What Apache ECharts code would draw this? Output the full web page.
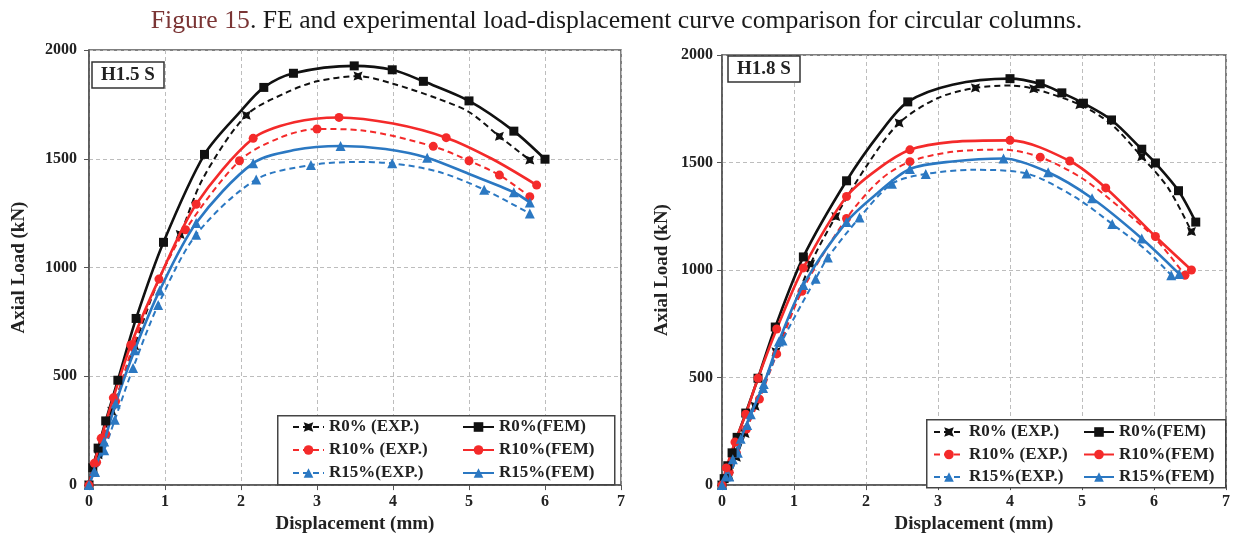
<!DOCTYPE html>
<html>
<head>
<meta charset="utf-8">
<script src="https://cdn.jsdelivr.net/npm/echarts@6/dist/echarts.min.js"></script>
<style>
html,body{margin:0;padding:0;background:#fff;}
#chart{width:1233px;height:539px;}
</style>
</head>
<body>
<div id="chart"></div>
<script>
// ---- data: [displacement (mm), axial load (kN), marker(1)/no marker(0)] ----
var xTicks = [0, 1, 2, 3, 4, 5, 6, 7];
var yTicks = [0, 500, 1000, 1500, 2000];
var seriesNames = ['R0% (EXP.)', 'R0%(FEM)', 'R10% (EXP.)', 'R10%(FEM)', 'R15%(EXP.)', 'R15%(FEM)'];
var panelLabels = ['H1.5 S', 'H1.8 S'];

// Panel H1.5 S
var h15_R0_EXP = [[0,0,1],[0.12,140,1],[0.3,340,1],[0.6,640,1],[0.9,930,0],[1.2,1152,1],[1.5,1410,0],[2.07,1700,1],[2.6,1805,0],[3.0,1856,0],[3.54,1880,1],[4.0,1845,0],[4.6,1775,0],[5.0,1715,0],[5.4,1603,1],[5.8,1494,1]];
var h15_R0_FEM = [[0,0,1],[0.05,80,1],[0.12,170,1],[0.22,295,1],[0.38,482,1],[0.62,766,1],[0.98,1116,1],[1.52,1520,1],[2.0,1720,0],[2.3,1828,1],[2.69,1893,1],[3.49,1927,1],[3.99,1909,1],[4.4,1856,1],[5.0,1766,1],[5.59,1627,1],[6.0,1498,1]];
var h15_R10_EXP = [[0,0,1],[0.1,105,1],[0.22,235,1],[0.35,385,1],[0.58,640,1],[0.9,930,0],[1.27,1174,1],[1.98,1491,1],[2.5,1595,0],[3.0,1637,1],[3.6,1630,0],[4.53,1557,1],[5.0,1491,1],[5.4,1425,1],[5.8,1326,1]];
var h15_R10_FEM = [[0,0,1],[0.07,100,1],[0.16,215,1],[0.32,401,1],[0.55,644,1],[0.92,947,1],[1.41,1291,1],[2.16,1594,1],[2.7,1668,0],[3.29,1690,1],[4.0,1662,0],[4.7,1597,1],[5.3,1500,0],[5.89,1379,1]];
var h15_R15_EXP = [[0,0,1],[0.08,60,1],[0.2,160,1],[0.34,300,1],[0.58,538,1],[0.91,828,1],[1.41,1151,1],[2.2,1405,1],[2.92,1471,1],[3.5,1485,0],[3.99,1479,1],[4.6,1440,0],[5.2,1358,1],[5.8,1248,1]];
var h15_R15_FEM = [[0,0,1],[0.07,65,1],[0.2,200,1],[0.35,375,1],[0.6,620,1],[0.93,895,1],[1.41,1205,1],[2.16,1480,1],[2.7,1540,0],[3.31,1559,1],[3.9,1545,0],[4.45,1505,1],[5.0,1430,0],[5.59,1346,1],[5.8,1299,1]];

// Panel H1.8 S
var h18_R0_EXP = [[0,0,1],[0.1,40,1],[0.2,130,1],[0.32,240,1],[0.46,367,1],[0.75,620,1],[1.23,1028,1],[1.58,1249,1],[2.0,1480,0],[2.46,1684,1],[3.0,1800,0],[3.52,1847,1],[4.0,1858,0],[4.33,1843,1],[4.97,1769,1],[5.4,1680,0],[5.83,1527,1],[6.2,1380,0],[6.52,1179,1]];
var h18_R0_FEM = [[0,0,1],[0.03,30,1],[0.08,90,1],[0.14,150,1],[0.21,222,1],[0.33,335,1],[0.5,497,1],[0.74,735,1],[1.13,1061,1],[1.73,1415,1],[2.2,1640,0],[2.58,1782,1],[3.2,1862,0],[4.0,1890,1],[4.42,1866,1],[4.72,1824,1],[5.02,1776,1],[5.41,1698,1],[5.83,1562,1],[6.02,1498,1],[6.34,1369,1],[6.58,1223,1]];
var h18_R10_EXP = [[0,0,1],[0.1,60,1],[0.2,150,1],[0.34,261,1],[0.52,400,1],[0.76,610,1],[1.11,901,1],[1.73,1240,1],[2.2,1420,0],[2.61,1504,1],[3.2,1550,0],[3.9,1560,0],[4.42,1525,1],[5.0,1427,0],[5.5,1298,0],[6.0,1153,0],[6.43,976,1]];
var h18_R10_FEM = [[0,0,1],[0.06,80,1],[0.18,200,1],[0.33,330,1],[0.5,497,1],[0.76,726,1],[1.13,1010,1],[1.73,1342,1],[2.15,1466,0],[2.61,1559,1],[3.2,1596,0],[4.0,1603,1],[4.83,1507,1],[5.33,1382,1],[6.02,1156,1],[6.52,1000,1]];
var h18_R15_EXP = [[0,0,1],[0.1,40,1],[0.22,150,1],[0.35,280,1],[0.57,451,1],[0.84,672,1],[1.3,959,1],[1.47,1058,1],[1.91,1244,1],[2.36,1401,1],[2.83,1447,1],[3.5,1466,0],[4.23,1449,1],[4.9,1340,0],[5.42,1214,1],[5.9,1090,0],[6.24,976,1]];
var h18_R15_FEM = [[0,0,1],[0.05,40,1],[0.15,120,1],[0.26,216,1],[0.4,330,1],[0.58,470,1],[0.79,668,1],[1.13,931,1],[1.73,1224,1],[2.15,1355,0],[2.61,1470,1],[3.2,1505,0],[3.91,1519,1],[4.53,1455,1],[5.14,1334,1],[5.83,1147,1],[6.35,982,1]];

var FONT = 'Liberation Serif';
var BLACK = '#111111', RED = '#f42a2a', BLUE = '#2b78c2';
var EXP_MARK = 'path://M0,0 L5,1.8 L10,0 L8.2,5 L10,10 L5,8.2 L0,10 L1.8,5 Z';

var styles = [
  {color: BLACK, dashed: true,  symbol: EXP_MARK, size: 9},
  {color: BLACK, dashed: false, symbol: 'rect', size: 9},
  {color: RED,   dashed: true,  symbol: 'circle', size: 9},
  {color: RED,   dashed: false, symbol: 'circle', size: 9},
  {color: BLUE,  dashed: true,  symbol: 'triangle', size: 10},
  {color: BLUE,  dashed: false, symbol: 'triangle', size: 10}
];
var panelData = [
  [h15_R0_EXP, h15_R0_FEM, h15_R10_EXP, h15_R10_FEM, h15_R15_EXP, h15_R15_FEM],
  [h18_R0_EXP, h18_R0_FEM, h18_R10_EXP, h18_R10_FEM, h18_R15_EXP, h18_R15_FEM]
];

var series = [];
panelData.forEach(function (arrs, p) {
  arrs.forEach(function (arr, i) {
    var st = styles[i];
    series.push({
      name: seriesNames[i],
      type: 'line',
      xAxisIndex: p, yAxisIndex: p,
      smooth: 0.3,
      symbol: st.symbol,
      symbolSize: st.size,
      showAllSymbol: true,
      z: st.dashed ? 3 : 4,
      lineStyle: {color: st.color, width: st.dashed ? 2 : 2.6, type: st.dashed ? [6, 4] : 'solid'},
      itemStyle: {color: st.color},
      emphasis: {disabled: true},
      data: arr.map(function (d) {
        return d[2] ? {value: [d[0], d[1]]} : {value: [d[0], d[1]], symbol: 'none'};
      })
    });
  });
});

var grids = [
  {left: 89, top: 50, width: 532, height: 439},
  {left: 722, top: 55, width: 505, height: 437}
];

function xAxis(idx) {
  return {
    type: 'value', gridIndex: idx, min: xTicks[0], max: xTicks[xTicks.length - 1], interval: 1,
    name: 'Displacement (mm)', nameLocation: 'middle', nameGap: idx === 0 ? 28 : 25,
    nameTextStyle: {fontFamily: FONT, fontWeight: 'bold', fontSize: 19, color: '#222'},
    axisLine: {lineStyle: {color: '#555', width: 1.5}},
    axisTick: {show: true, length: 5, lineStyle: {color: '#555'}},
    axisLabel: {fontFamily: FONT, fontWeight: 'bold', fontSize: 16, color: '#222', margin: 9,
      formatter: function (v) { return String(v); }},
    splitLine: {show: true, lineStyle: {color: '#bdbdbd', type: [4, 3], width: 1}}
  };
}
function yAxis(idx) {
  return {
    type: 'value', gridIndex: idx, min: yTicks[0], max: yTicks[yTicks.length - 1], interval: 500,
    name: 'Axial Load (kN)', nameLocation: 'middle', nameGap: idx === 0 ? 60 : 50,
    nameTextStyle: {fontFamily: FONT, fontWeight: 'bold', fontSize: 19, color: '#222'},
    axisLine: {show: true, lineStyle: {color: '#555', width: 1.5}},
    axisTick: {show: true, length: 5, lineStyle: {color: '#555'}},
    axisLabel: {fontFamily: FONT, fontWeight: 'bold', fontSize: 16, color: '#222', margin: idx === 0 ? 12 : 9,
      formatter: function (v) { return String(v); }},
    splitLine: {show: true, lineStyle: {color: '#bdbdbd', type: [4, 3], width: 1}}
  };
}

function legend(names, left, top, gap, w) {
  return {
    data: names, orient: 'vertical', left: left, top: top, padding: 0,
    itemGap: gap, itemWidth: w, itemHeight: 12, z: 20,
    selectedMode: false,
    textStyle: {fontFamily: FONT, fontWeight: 'bold', fontSize: 17, color: '#222', lineHeight: 18}
  };
}
var expNames = [seriesNames[0], seriesNames[2], seriesNames[4]];
var femNames = [seriesNames[1], seriesNames[3], seriesNames[5]];

var boxTitle = function (text, left, top) {
  return {
    text: text, left: left, top: top, borderColor: '#333', borderWidth: 1.5,
    padding: [4, 9, 3, 9], backgroundColor: '#fff',
    textStyle: {fontFamily: FONT, fontWeight: 'bold', fontSize: 19, color: '#222'}
  };
};

var option = {
  backgroundColor: '#fff',
  animation: false,
  title: [
    {
      text: '{r|Figure 15}. FE and experimental load-displacement curve comparison for circular columns.',
      left: 'center', top: 3,
      textStyle: {fontFamily: FONT, fontWeight: 'normal', fontSize: 25.7, color: '#1a1a1a',
        rich: {r: {fontFamily: FONT, fontSize: 25.7, color: '#7b3535'}}}
    },
    boxTitle(panelLabels[0], 92, 62),
    boxTitle(panelLabels[1], 728, 56)
  ],
  grid: grids.map(function (g) { return Object.assign({show: true, borderColor: '#555', borderWidth: 1.5, backgroundColor: 'transparent'}, g); }),
  xAxis: [xAxis(0), xAxis(1)],
  yAxis: [yAxis(0), yAxis(1)],
  legend: [
    legend(expNames, 292, 418, 5, 31),
    legend(femNames, 462, 418, 5, 31),
    legend(expNames, 933, 423, 4.5, 30),
    legend(femNames, 1083, 423, 4.5, 30)
  ],
  graphic: [
    {type: 'rect', left: 277, top: 415, z: 10, shape: {width: 337, height: 69}, style: {fill: '#fff', stroke: '#444', lineWidth: 1.5}},
    {type: 'rect', left: 926, top: 419, z: 10, shape: {width: 299, height: 68}, style: {fill: '#fff', stroke: '#444', lineWidth: 1.5}}
  ],
  series: series
};

var chart = echarts.init(document.getElementById('chart'), null, {renderer: 'canvas'});
chart.setOption(option);
</script>
</body>
</html>
